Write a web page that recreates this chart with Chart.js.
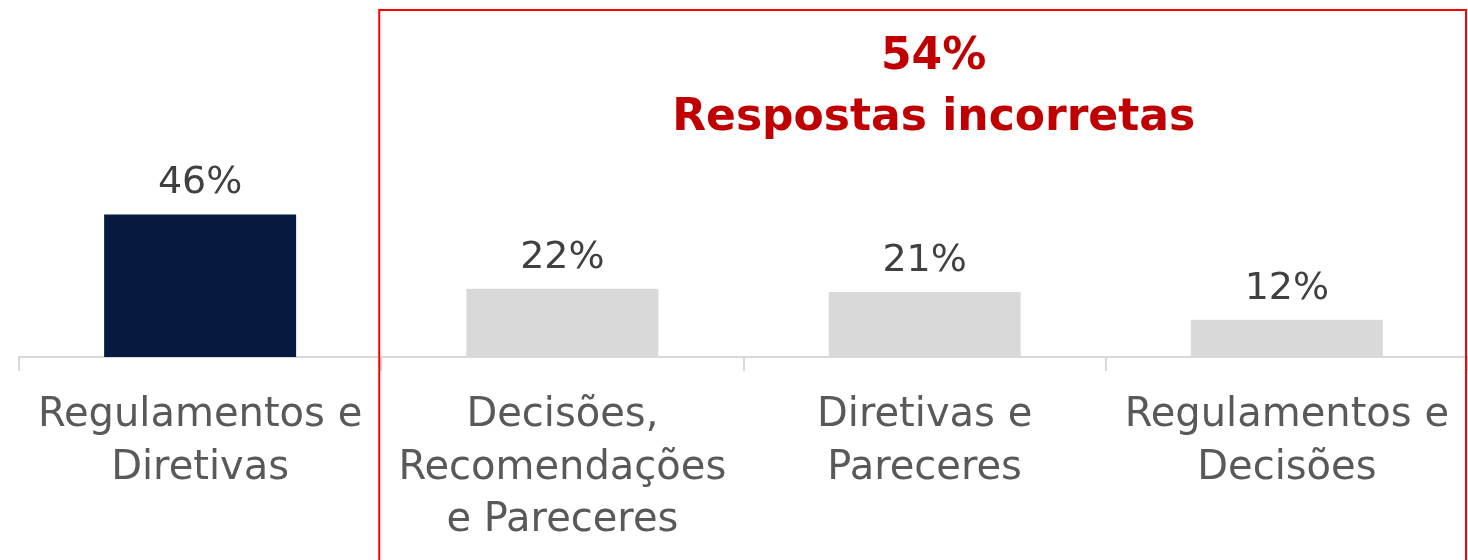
<!DOCTYPE html>
<html><head><meta charset="utf-8">
<script src="https://cdn.jsdelivr.net/npm/chart.js@4.4.1/dist/chart.umd.min.js"></script>
<style>html,body{margin:0;padding:0;background:#fff}#w{width:1468px;height:560px}</style>
</head><body><div id="w"><canvas id="c"></canvas></div>
<script>
const categories = [["Regulamentos e","Diretivas"],["Decisões,","Recomendações","e Pareceres"],["Diretivas e","Pareceres"],["Regulamentos e","Decisões"]];
const values = [46,22,21,12];
const valueLabels = ["46%","22%","21%","12%"];
const barColors = ["#061A40","#D9D9D9","#D9D9D9","#D9D9D9"];
const titleLines = ["54%","Respostas incorretas"];
const FONT = "'DejaVu Sans', sans-serif";

const overlay = {
  id:'overlay',
  afterDatasetsDraw(chart){
    const ctx = chart.ctx;
    const meta = chart.getDatasetMeta(0);
    ctx.save();
    ctx.fillStyle = '#404040';
    ctx.font = '38px ' + FONT;
    ctx.textAlign = 'center';
    ctx.textBaseline = 'alphabetic';
    meta.data.forEach((b,i)=>{ ctx.fillText(valueLabels[i], b.x, b.y - 21); });
    const left = (meta.data[0].x + meta.data[1].x)/2 - 2;
    ctx.strokeStyle = '#FF0000';
    ctx.lineWidth = 2;
    ctx.beginPath();
    ctx.moveTo(left, 580); ctx.lineTo(left, 10); ctx.lineTo(1466, 10); ctx.lineTo(1466, 580);
    ctx.stroke();
    ctx.fillStyle = '#C00000';
    ctx.font = 'bold 44px ' + FONT;
    const cx = (left + 1466)/2 + 11;
    ctx.fillText(titleLines[0], cx, 69);
    ctx.fillText(titleLines[1], cx, 130);
    ctx.restore();
  }
};

new Chart(document.getElementById('c'), {
  type:'bar',
  data:{ labels: categories, datasets:[{ data: values, backgroundColor: barColors, categoryPercentage:1, barPercentage:0.53 }]},
  options:{
    responsive:true, maintainAspectRatio:false, animation:false,
    layout:{ padding:{ left:19, right:0, top:47, bottom:0 } },
    plugins:{ legend:{display:false}, tooltip:{enabled:false} },
    scales:{
      y:{ display:false, min:0, max:100 },
      x:{
        afterFit(s){ s.height = 203; },
        border:{ color:'#D9D9D9', width:2 },
        grid:{ offset:true, drawOnChartArea:false, drawTicks:true, tickLength:14, color:'#D9D9D9', lineWidth:2 },
        ticks:{ color:'#595959', font:{ family:FONT, size:40, lineHeight:1.32 }, padding:18, maxRotation:0, autoSkip:false }
      }
    }
  },
  plugins:[overlay]
});
</script></body></html>
